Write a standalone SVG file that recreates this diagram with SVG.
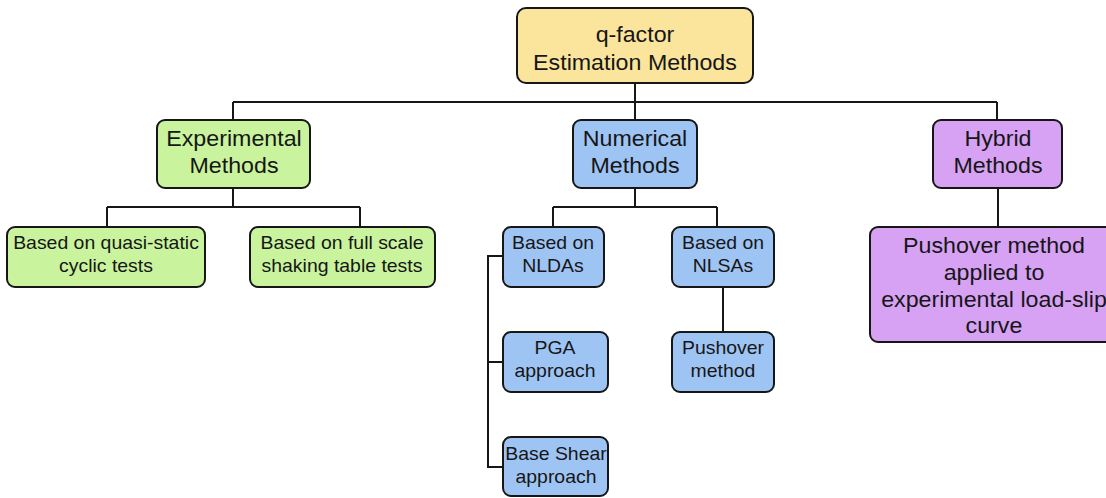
<svg xmlns="http://www.w3.org/2000/svg" width="1106" height="498" viewBox="0 0 1106 498">
<style>
.box{stroke:#161616;stroke-width:2}
.y{fill:#FBE59C}.g{fill:#C9F49D}.b{fill:#9EC4F4}.p{fill:#D7A2F4}
text{font-family:"Liberation Sans",Arial,sans-serif;fill:#161616;text-anchor:middle;transform-box:fill-box;transform-origin:center;transform:scaleX(1.08)}
.h{font-size:21.5px}.s{font-size:18px}
.c{fill:none;stroke:#161616;stroke-width:2}
</style>
<rect width="1106" height="498" fill="#fff"/>
<g id="connectors">
<path class="c" d="M635 83V102M233 102H997M233 102V120M635 102V120M997 102V120"/>
<path class="c" d="M233 188V207M107 207H360M107 207V227M360 207V227"/>
<path class="c" d="M635 188V207M553 207H717M553 207V227M717 207V227"/>
<path class="c" d="M503 256H488V467H503M488 362H503"/>
<path class="c" d="M723 287V332"/>
<path class="c" d="M998 188V227"/>
</g>
<g id="root"><rect class="box y" x="517" y="8" width="236" height="75" rx="9"/>
<text class="h" x="635" y="42">q-factor</text><text class="h" x="635" y="70">Estimation Methods</text></g>
<g id="experimental"><rect class="box g" x="157" y="120" width="153" height="68" rx="8"/>
<text class="h" x="234" y="146">Experimental</text><text class="h" x="234" y="173">Methods</text></g>
<g id="quasi-static"><rect class="box g" x="7" y="227" width="198" height="60" rx="8"/>
<text class="s" x="106" y="249">Based on quasi-static</text><text class="s" x="106" y="272">cyclic tests</text></g>
<g id="shaking-table"><rect class="box g" x="250" y="227" width="185" height="60" rx="8"/>
<text class="s" x="342" y="249">Based on full scale</text><text class="s" x="342" y="272">shaking table tests</text></g>
<g id="numerical"><rect class="box b" x="573" y="120" width="124" height="68" rx="8"/>
<text class="h" x="635" y="146">Numerical</text><text class="h" x="635" y="173">Methods</text></g>
<g id="nldas"><rect class="box b" x="503" y="227" width="101" height="60" rx="8"/>
<text class="s" x="553" y="249">Based on</text><text class="s" x="553" y="272">NLDAs</text></g>
<g id="nlsas"><rect class="box b" x="672" y="227" width="102" height="60" rx="8"/>
<text class="s" x="723" y="249">Based on</text><text class="s" x="723" y="272">NLSAs</text></g>
<g id="pga"><rect class="box b" x="503" y="332" width="105" height="60" rx="8"/>
<text class="s" x="555" y="354">PGA</text><text class="s" x="555" y="377">approach</text></g>
<g id="base-shear"><rect class="box b" x="503" y="437" width="105" height="59" rx="8"/>
<text class="s" x="556" y="460">Base Shear</text><text class="s" x="556" y="483">approach</text></g>
<g id="pushover"><rect class="box b" x="672" y="332" width="102" height="60" rx="8"/>
<text class="s" x="723" y="354">Pushover</text><text class="s" x="723" y="377">method</text></g>
<g id="hybrid"><rect class="box p" x="933" y="120" width="129" height="68" rx="8"/>
<text class="h" x="998" y="146">Hybrid</text><text class="h" x="998" y="173">Methods</text></g>
<g id="pushover-experimental"><rect class="box p" x="870" y="227" width="250" height="115" rx="8"/>
<text class="h" x="994" y="253">Pushover method</text><text class="h" x="994" y="280">applied to</text><text class="h" x="994" y="307">experimental load-slip</text><text class="h" x="994" y="333">curve</text></g>
</svg>
